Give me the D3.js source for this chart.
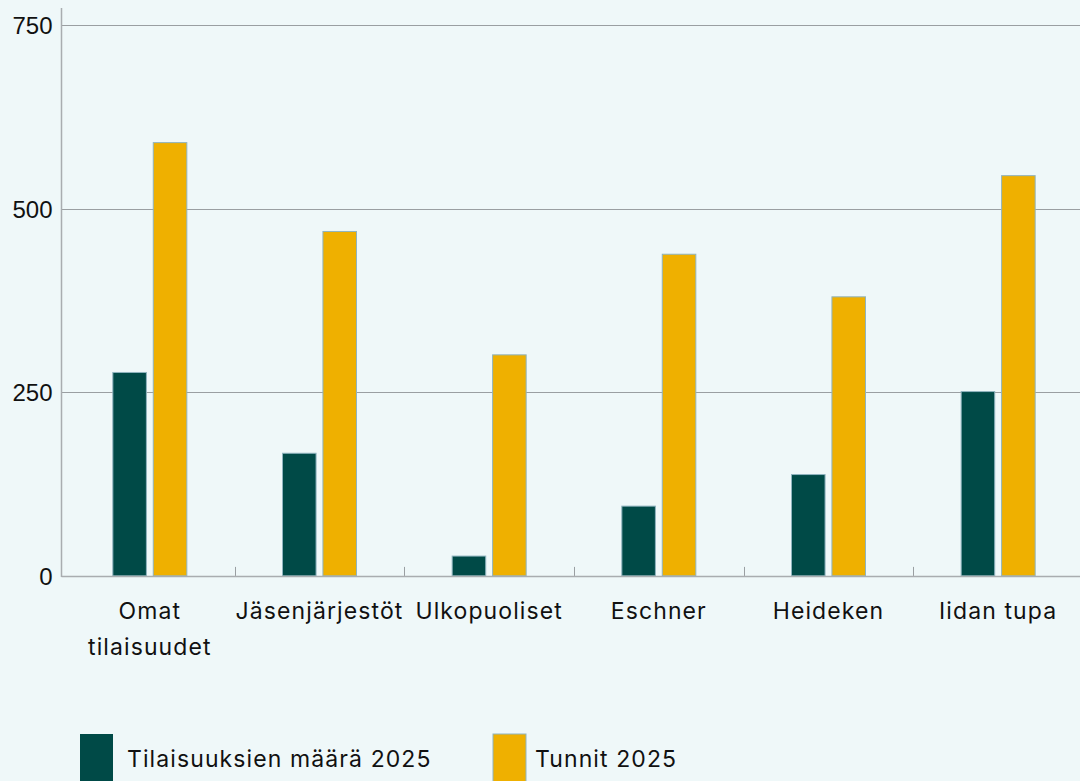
<!DOCTYPE html>
<html>
<head>
<meta charset="utf-8">
<title>Tilaisuudet ja tunnit 2025</title>
<style>
html, body {
    margin: 0;
    padding: 0;
    background: #eff8f9;
}
svg {
    display: block;
}
.yaxis text {
    font-family: "Liberation Sans", Arial, sans-serif;
    font-size: 24px;
    fill: #111;
}
.xlabels text, .legend text {
    font-family: Inter, "Open Sans", sans-serif;
    font-size: 23px;
    letter-spacing: 1.1px;
    fill: #111;
}
line.grid {
    stroke: #9a9fa2;
    stroke-width: 1;
}
line.axis {
    stroke: #a9adb0;
    stroke-width: 1.5;
}
</style>
</head>
<body>
<script src="https://cdn.jsdelivr.net/npm/d3@7"></script>
<div id="chart"></div>
<script>
var categories = [["Omat", "tilaisuudet"], ["Jäsenjärjestöt"], ["Ulkopuoliset"], ["Eschner"], ["Heideken"], ["Iidan tupa"]];
var seriesNames = ["Tilaisuuksien määrä 2025", "Tunnit 2025"];
var events2025 = [277, 167, 27, 95, 138, 251];
var hours2025 = [590, 469, 301, 438, 380, 545];
var yTicks = [0, 250, 500, 750];
var colors = ["#004a47", "#efb000"];

(function() {
    var width = 1080, height = 781;
    var x0 = 61.5, yTop = 8;

    var svg = d3.select("#chart")
        .append("svg")
        .attr("width", width)
        .attr("height", height);

    var keys = categories.map(function(c) { return c.join(" "); });
    var xscale = d3.scaleBand()
        .domain(keys)
        .range([65, 1083]);
    var yscale = d3.scaleLinear()
        .domain([0, 750])
        .range([575.9, 25.1]);
    var inner = d3.scaleBand()
        .domain(seriesNames)
        .range([-37, 37])
        .paddingInner(0.17);

    // gridlines + y labels
    var gy = svg.append("g").attr("class", "yaxis");
    yTicks.forEach(function(t) {
        var y = Math.round(yscale(t)) + 0.5;
        if (t > 0) {
            gy.append("line")
                .attr("class", "grid")
                .attr("x1", x0).attr("x2", width)
                .attr("y1", y).attr("y2", y);
        }
        gy.append("text")
            .attr("x", x0 - 9)
            .attr("y", y + 8)
            .attr("text-anchor", "end")
            .text(t);
    });

    // bars
    var rows = keys.map(function(k, i) {
        return { key: k, values: [events2025[i], hours2025[i]] };
    });
    var gdata = svg.append("g").attr("class", "data");
    var groups = gdata.selectAll("g")
        .data(rows)
        .enter().append("g")
        .attr("transform", function(d) { return "translate(" + (xscale(d.key) + xscale.bandwidth() / 2) + ",0)"; });
    groups.selectAll("rect")
        .data(function(d) { return d.values.map(function(v, j) { return { name: seriesNames[j], value: v, j: j }; }); })
        .enter().append("rect")
        .attr("x", function(d) { return inner(d.name); })
        .attr("width", inner.bandwidth())
        .attr("y", function(d) { return yscale(d.value); })
        .attr("height", function(d) { return yscale(0) - yscale(d.value); })
        .attr("fill", function(d) { return colors[d.j]; })
        .attr("stroke", "#8fb4bf")
        .attr("stroke-width", 1);

    // axes lines and ticks
    var gx = svg.append("g").attr("class", "xaxis");
    gx.append("line").attr("class", "axis")
        .attr("x1", x0).attr("x2", width)
        .attr("y1", yscale(0) + 0.5).attr("y2", yscale(0) + 0.5);
    gx.append("line").attr("class", "axis")
        .attr("x1", x0).attr("x2", x0)
        .attr("y1", yTop).attr("y2", yscale(0) + 1);
    keys.slice(1).forEach(function(k) {
        var x = Math.round(xscale(k)) + 0.5;
        gx.append("line").attr("class", "grid")
            .attr("x1", x).attr("x2", x)
            .attr("y1", yscale(0) - 9).attr("y2", yscale(0));
    });

    // category labels
    var gl = svg.append("g").attr("class", "xlabels");
    categories.forEach(function(c, i) {
        var cx = xscale(keys[i]) + xscale.bandwidth() / 2;
        var t = gl.append("text")
            .attr("text-anchor", "middle")
            .attr("x", cx)
            .attr("y", 619);
        c.forEach(function(line, j) {
            t.append("tspan")
                .attr("x", cx)
                .attr("dy", j === 0 ? 0 : 36)
                .text(line);
        });
    });

    // legend
    var legendX = [80, 493];
    var legendTextX = [127, 535];
    var lg = svg.append("g").attr("class", "legend");
    seriesNames.forEach(function(name, j) {
        lg.append("rect")
            .attr("x", legendX[j])
            .attr("y", 734)
            .attr("width", 33)
            .attr("height", 60)
            .attr("fill", colors[j])
            .attr("stroke", j === 1 ? "#8fb4bf" : "none");
        lg.append("text")
            .attr("x", legendTextX[j])
            .attr("y", 767)
            .text(name);
    });
})();
</script>
</body>
</html>
